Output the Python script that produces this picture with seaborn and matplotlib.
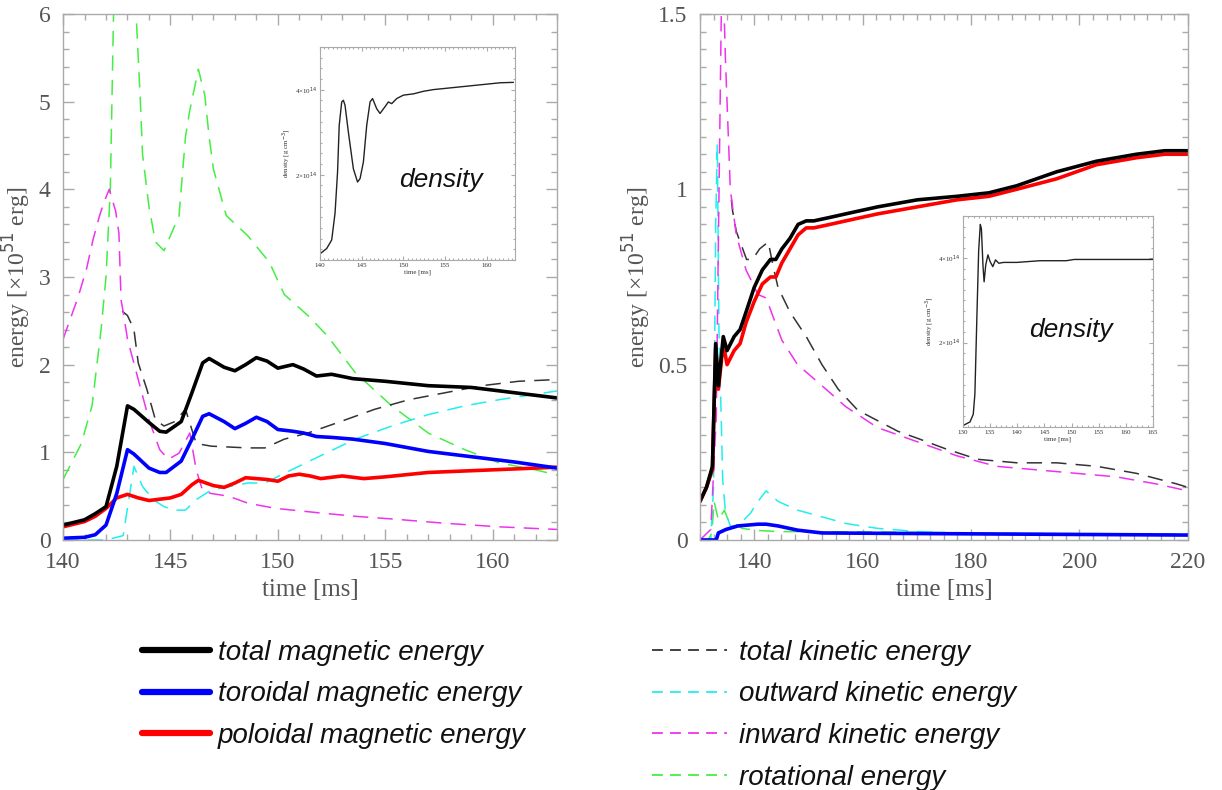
import numpy as np
import matplotlib
matplotlib.use("Agg")
import matplotlib.pyplot as plt
import seaborn as sns
from matplotlib.ticker import MultipleLocator, FuncFormatter
from matplotlib.lines import Line2D

sns.set_style("white")
plt.rcParams['font.family'] = ['Liberation Serif', 'DejaVu Serif']

# ---------------- Left panel data (time in ms, energy in 1e51 erg) ----------------
L_mag_t   = [140, 141, 141.5, 142, 142.5, 143, 143.3, 144, 144.5, 144.8, 145.5, 146, 146.5, 146.8, 147.5, 148, 148.5, 149, 149.5, 150, 150.7, 151.2, 151.8, 152.5, 153.5, 155, 157, 159, 161, 163]
L_mag_tot = [0.17, 0.23, 0.30, 0.38, 0.84, 1.53, 1.49, 1.34, 1.24, 1.23, 1.35, 1.68, 2.02, 2.07, 1.97, 1.93, 2.00, 2.08, 2.04, 1.96, 2.00, 1.95, 1.87, 1.89, 1.84, 1.81, 1.76, 1.74, 1.68, 1.62]
L_mag_tor = [0.02, 0.03, 0.06, 0.17, 0.53, 1.03, 0.98, 0.82, 0.77, 0.77, 0.90, 1.15, 1.41, 1.44, 1.35, 1.27, 1.33, 1.40, 1.35, 1.26, 1.24, 1.22, 1.18, 1.17, 1.15, 1.10, 1.01, 0.95, 0.89, 0.82]
L_pol_t   = [140, 141, 141.5, 142, 142.5, 143, 143.5, 144, 145, 145.5, 146, 146.3, 147, 147.5, 148, 148.5, 149.5, 150, 150.5, 151, 151.5, 152, 153, 154, 155, 157, 159, 161, 163]
L_mag_pol = [0.15, 0.21, 0.27, 0.36, 0.48, 0.52, 0.48, 0.45, 0.48, 0.52, 0.63, 0.68, 0.62, 0.60, 0.65, 0.71, 0.69, 0.67, 0.73, 0.75, 0.73, 0.70, 0.73, 0.70, 0.72, 0.77, 0.79, 0.81, 0.83]

L_rot_t   = [140, 140.85, 141.35, 141.77, 142.0, 142.2, 142.35, 142.9, 143.4, 143.6, 143.7, 144.0, 144.3, 144.7, 145.4, 145.7, 145.9, 146.3, 146.6, 146.8, 147.0, 147.6, 148.6, 149.6, 150.3, 151.4, 152.3, 153.6, 155.3, 157, 158.7, 160.3, 162, 163]
L_rot     = [0.69, 1.10, 1.53, 2.40, 3.00, 4.00, 6.00, 7.50, 6.00, 5.00, 4.40, 3.80, 3.40, 3.30, 3.70, 4.60, 4.90, 5.37, 5.07, 4.60, 4.23, 3.70, 3.47, 3.17, 2.80, 2.56, 2.33, 1.91, 1.53, 1.22, 1.03, 0.88, 0.80, 0.74]
L_in_t    = [140, 140.7, 141.1, 141.4, 141.7, 141.9, 142.15, 142.45, 142.6, 142.7, 142.8, 143.0, 143.5, 144.0, 144.5, 144.9, 145.4, 145.9, 146.2, 146.5, 146.9, 147.7, 148.6, 149.9, 151.9, 153.6, 155.3, 157.8, 160.3, 163]
L_in      = [2.29, 2.77, 3.10, 3.43, 3.70, 3.85, 4.00, 3.75, 3.50, 2.74, 2.60, 2.29, 1.83, 1.37, 1.03, 0.92, 0.99, 1.22, 0.80, 0.56, 0.53, 0.50, 0.42, 0.36, 0.31, 0.27, 0.24, 0.19, 0.15, 0.12]
L_out_t   = [140, 142.0, 142.8, 143.3, 143.7, 144.2, 144.7, 145.2, 145.7, 146.2, 146.9, 148.6, 149.4, 150.3, 151.9, 153.6, 155.3, 157, 158.7, 160.3, 163]
L_out     = [0.0, 0.0, 0.05, 0.84, 0.61, 0.46, 0.38, 0.34, 0.34, 0.46, 0.57, 0.65, 0.65, 0.76, 0.95, 1.15, 1.30, 1.43, 1.53, 1.60, 1.70]
L_kin_t   = [142.75, 143.0, 143.3, 143.5, 143.9, 144.3, 144.7, 145.2, 145.7, 146.2, 146.9, 148.6, 149.4, 150.3, 151.4, 152.8, 154.5, 156.1, 157.8, 159.5, 161.2, 163]
L_kin     = [2.61, 2.56, 2.40, 2.02, 1.72, 1.37, 1.30, 1.35, 1.49, 1.10, 1.07, 1.05, 1.05, 1.15, 1.22, 1.34, 1.49, 1.60, 1.68, 1.76, 1.81, 1.83]

# ---------------- Right panel data ----------------
R_mag_t   = [130, 131.2, 132.3, 132.9, 133.4, 134.3, 135, 136.3, 137.4, 138.5, 140, 141.5, 143, 144, 145.1, 146.6, 148.1, 149.6, 151, 154, 156.9, 162.8, 170.1, 177.4, 183.3, 188.4, 195.8, 203.1, 210.5, 215.7, 220]
R_mag_tot = [0.11, 0.15, 0.21, 0.56, 0.44, 0.58, 0.54, 0.58, 0.60, 0.65, 0.72, 0.77, 0.80, 0.80, 0.83, 0.86, 0.90, 0.91, 0.91, 0.92, 0.93, 0.95, 0.97, 0.98, 0.99, 1.01, 1.05, 1.08, 1.10, 1.11, 1.11]
R_mag_pol = [0.11, 0.15, 0.20, 0.55, 0.43, 0.56, 0.50, 0.54, 0.56, 0.62, 0.68, 0.73, 0.75, 0.75, 0.79, 0.83, 0.87, 0.89, 0.89, 0.90, 0.91, 0.93, 0.95, 0.97, 0.98, 1.00, 1.03, 1.07, 1.09, 1.10, 1.10]
R_tor_t   = [130, 132.5, 133.0, 133.4, 134.8, 137.0, 140.7, 142.2, 144.4, 148, 152.5, 162.8, 184.7, 220]
R_mag_tor = [0.0, 0.0, 0.0, 0.02, 0.03, 0.04, 0.045, 0.045, 0.04, 0.028, 0.02, 0.019, 0.017, 0.014]

R_in_t    = [130, 132, 133, 133.6, 134.1, 134.7, 135.6, 136.7, 138.5, 140.7, 142.2, 145.1, 148, 152.5, 156.9, 162.8, 170.1, 177.4, 184.7, 192.1, 199.4, 206.8, 214.1, 220]
R_in      = [0.0, 0.03, 0.35, 1.10, 1.70, 1.37, 1.00, 0.87, 0.77, 0.70, 0.69, 0.57, 0.50, 0.44, 0.38, 0.32, 0.28, 0.24, 0.21, 0.20, 0.19, 0.18, 0.16, 0.14]
R_out_t   = [130, 132.0, 132.5, 132.9, 133.2, 133.5, 133.9, 134.2, 134.7, 135.6, 137.0, 139.3, 140.7, 142.2, 144.4, 148, 152.5, 156.9, 162.8, 170.1, 177.4, 220]
R_out     = [0.0, 0.0, 0.15, 0.90, 1.13, 0.60, 0.36, 0.17, 0.08, 0.04, 0.04, 0.076, 0.11, 0.14, 0.11, 0.085, 0.066, 0.047, 0.033, 0.024, 0.019, 0.017]
R_kin_t   = [135.8, 136.0, 136.7, 138.6, 139.7, 141.0, 142.6, 143.5, 144.4, 146.6, 149.6, 152.5, 155.5, 159.1, 162.8, 166.5, 170.1, 175.3, 181.2, 188.5, 195.8, 203.2, 210.5, 217.9, 220]
R_kin     = [0.97, 0.94, 0.88, 0.80, 0.80, 0.83, 0.85, 0.78, 0.72, 0.65, 0.58, 0.50, 0.43, 0.37, 0.34, 0.31, 0.29, 0.26, 0.23, 0.22, 0.22, 0.21, 0.19, 0.16, 0.15]
R_rot_t   = [130, 131.5, 132.2, 132.6, 133.4, 134.5, 135.2, 136.3, 137.8, 140.7, 144.4, 170.1, 220]
R_rot     = [0.0, 0.0, 0.02, 0.11, 0.057, 0.085, 0.057, 0.047, 0.033, 0.027, 0.024, 0.022, 0.014]

# ---------------- Inset density data (1e14 g/cm^3) ----------------
IL_t = [140.1, 140.8, 141.4, 141.8, 142.1, 142.3, 142.6, 142.8, 143.0, 143.4, 144.0, 144.5, 144.8, 145.2, 145.6, 146.0, 146.3, 146.8, 147.2, 147.8, 148.2, 148.6, 149.2, 150.0, 151.2, 152.4, 153.6, 155.6, 157.6, 159.6, 161.6, 163.2]
IL_rho = [0.16, 0.27, 0.47, 1.10, 2.06, 3.16, 3.71, 3.75, 3.63, 3.00, 2.14, 1.83, 1.91, 2.30, 3.16, 3.71, 3.79, 3.55, 3.44, 3.60, 3.71, 3.67, 3.79, 3.87, 3.90, 3.96, 4.00, 4.04, 4.08, 4.12, 4.16, 4.17]
IR_t = [130.1, 131.3, 131.9, 132.2, 132.6, 132.9, 133.2, 133.4, 133.7, 133.9, 134.2, 134.6, 135.0, 135.5, 136.0, 136.6, 137.5, 139.9, 144.2, 149.0, 150.5, 155.3, 165.0]
IR_rho = [0.04, 0.12, 0.30, 0.78, 2.76, 4.19, 4.80, 4.70, 3.80, 3.44, 3.84, 4.08, 3.92, 3.80, 3.96, 3.88, 3.90, 3.90, 3.94, 3.94, 3.97, 3.97, 3.97]

# ---------------- Styling ----------------
C_BLACK, C_BLUE, C_RED = "#000000", "#0000ff", "#ff0000"
C_CYAN, C_MAG, C_GREEN = "#22eeee", "#ee33ee", "#44ee44"
C_KIN = "#333333"
DASH = (0, (10, 6))
TXT = "#555555"
SPINE = "#aaaaaa"

fig = plt.figure(figsize=(12.22, 7.9), dpi=100)
axL = fig.add_axes([0.0516, 0.3165, 0.4043, 0.6658])
axR = fig.add_axes([0.5728, 0.3165, 0.3993, 0.6658])


def plot_line(ax, t, v, color, lw, ls="-", z=2):
    sns.lineplot(x=t, y=v, ax=ax, color=color, linewidth=lw, linestyle=ls,
                 legend=False, estimator=None, sort=False, zorder=z)


def style_axes(ax, xmaj, xmin, ymaj, ymin, lab=14, L=8, l=4, w=1.0, xpad=3.5, ypad=3.5):
    for s in ax.spines.values():
        s.set_color(SPINE)
        s.set_linewidth(w)
    ax.xaxis.set_major_locator(MultipleLocator(xmaj))
    ax.xaxis.set_minor_locator(MultipleLocator(xmin))
    ax.yaxis.set_major_locator(MultipleLocator(ymaj))
    ax.yaxis.set_minor_locator(MultipleLocator(ymin))
    ax.tick_params(which="both", direction="in", top=True, right=True, bottom=True, left=True,
                   color=SPINE, labelcolor=TXT, labelsize=lab, width=w)
    ax.tick_params(which="major", length=L)
    ax.tick_params(which="minor", length=l)
    ax.tick_params(axis="x", which="both", pad=xpad)
    ax.tick_params(axis="y", which="both", pad=ypad)
    fmt = FuncFormatter(lambda v, p: "%g" % v)
    ax.xaxis.set_major_formatter(fmt)
    ax.yaxis.set_major_formatter(fmt)


# Left panel: dashed first (underneath), then solid
plot_line(axL, L_rot_t, L_rot, C_GREEN, 1.1, DASH)
plot_line(axL, L_out_t, L_out, C_CYAN, 1.1, DASH)
plot_line(axL, L_kin_t, L_kin, C_KIN, 1.1, DASH)
plot_line(axL, L_in_t, L_in, C_MAG, 1.1, DASH)
plot_line(axL, L_pol_t, L_mag_pol, C_RED, 2.6)
plot_line(axL, L_mag_t, L_mag_tor, C_BLUE, 2.6)
plot_line(axL, L_mag_t, L_mag_tot, C_BLACK, 2.6)
axL.set_xlim(140, 163)
axL.set_ylim(0, 6)
style_axes(axL, 5, 1, 1, 0.2, lab=17, xpad=9, ypad=9)

# Right panel
plot_line(axR, R_rot_t, R_rot, C_GREEN, 1.1, DASH)
plot_line(axR, R_out_t, R_out, C_CYAN, 1.1, DASH)
plot_line(axR, R_kin_t, R_kin, C_KIN, 1.1, DASH)
plot_line(axR, R_in_t, R_in, C_MAG, 1.1, DASH)
plot_line(axR, R_tor_t, R_mag_tor, C_BLUE, 2.6)
plot_line(axR, R_mag_t, R_mag_pol, C_RED, 2.6)
plot_line(axR, R_mag_t, R_mag_tot, C_BLACK, 2.6)
axR.set_xlim(130, 220)
axR.set_ylim(0, 1.5)
style_axes(axR, 20, 2.5, 0.5, 0.05, lab=17, xpad=9, ypad=9)

for ax in (axL, axR):
    ax.set_xlabel("time [ms]", fontsize=18, color=TXT, labelpad=4)
    ax.set_ylabel("energy [×10$^{51}$ erg]", fontsize=17, color=TXT, labelpad=4)

# Insets
axIL = fig.add_axes([0.2619, 0.6709, 0.1596, 0.2696])
axIR = fig.add_axes([0.7880, 0.4595, 0.1555, 0.2671])
plot_line(axIL, IL_t, IL_rho, "#222222", 1.0)
axIL.set_xlim(140, 163.4)
axIL.set_ylim(0, 5)
style_axes(axIL, 5, 0.5, 2, 0.25, lab=5, L=3, l=1.5, w=0.8, xpad=2, ypad=2)
plot_line(axIR, IR_t, IR_rho, "#222222", 1.0)
axIR.set_xlim(130, 165)
axIR.set_ylim(0, 5)
style_axes(axIR, 5, 1, 2, 0.25, lab=5, L=3, l=1.5, w=0.8, xpad=2, ypad=2)
for ax in (axIL, axIR):
    ax.yaxis.set_major_locator(plt.FixedLocator([2, 4]))
    ax.yaxis.set_major_formatter(FuncFormatter(lambda v, p: "%d×10$^{14}$" % v))
    ax.tick_params(which="both", labelcolor="#333333")
    ax.set_xlabel("time [ms]", fontsize=5, color="#333333", labelpad=1)
    ax.set_ylabel("density [g cm$^{-3}$]", fontsize=5, color="#333333", labelpad=1)
axIL.text(0.62, 0.375, "density", transform=axIL.transAxes, fontsize=19, style="italic",
          family="Liberation Sans", ha="center", va="center", color="#111111")
axIR.text(0.57, 0.46, "density", transform=axIR.transAxes, fontsize=19, style="italic",
          family="Liberation Sans", ha="center", va="center", color="#111111")

# Legends
mag_handles = [Line2D([], [], color=C_BLACK, lw=4.5),
               Line2D([], [], color=C_BLUE, lw=4.5),
               Line2D([], [], color=C_RED, lw=4.5)]
mag_labels = ["total magnetic energy", "toroidal magnetic energy", "poloidal magnetic energy"]
kin_handles = [Line2D([], [], color=C_KIN, lw=1.3, ls=(0, (6, 4))),
               Line2D([], [], color=C_CYAN, lw=1.3, ls=(0, (6, 4))),
               Line2D([], [], color=C_MAG, lw=1.3, ls=(0, (6, 4))),
               Line2D([], [], color=C_GREEN, lw=1.3, ls=(0, (6, 4)))]
kin_labels = ["total kinetic energy", "outward kinetic energy", "inward kinetic energy", "rotational energy"]
legprops = dict(family="Liberation Sans", style="italic", size=20)
leg1 = fig.legend(mag_handles, mag_labels, loc="upper left", bbox_to_anchor=(0.116, 0.19),
                  frameon=False, prop=legprops, handlelength=2.45, handletextpad=0.3,
                  labelspacing=0.56, borderaxespad=0, borderpad=0)
leg2 = fig.legend(kin_handles, kin_labels, loc="upper left", bbox_to_anchor=(0.5335, 0.19),
                  frameon=False, prop=legprops, handlelength=2.7, handletextpad=0.45,
                  labelspacing=0.56, borderaxespad=0, borderpad=0)
for leg in (leg1, leg2):
    for t in leg.get_texts():
        t.set_color("#111111")

fig.savefig("out.png", dpi=100, facecolor="white")
